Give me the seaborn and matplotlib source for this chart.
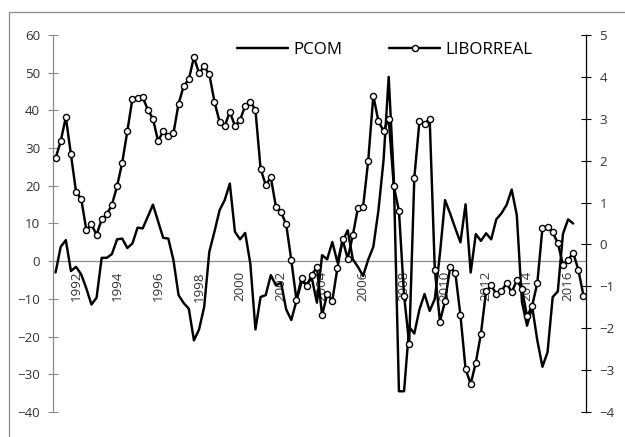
import numpy as np
import pandas as pd
import matplotlib
matplotlib.use("Agg")
import matplotlib.pyplot as plt
import seaborn as sns
from matplotlib.lines import Line2D

# Quarterly observations, 1991Q1 onward
pcom = [
    -3.0, 3.8, 5.6, -2.6, -1.5, -3.5, -7.2, -11.5, -9.7, 0.9,
    0.9, 1.9, 5.8, 6.0, 3.5, 4.7, 8.9, 8.7, 11.8, 15.0,
    10.6, 6.2, 6.0, 0.3, -9.0, -11.1, -12.6, -21.0, -18.1, -12.1,
    2.5, 7.8, 13.5, 16.2, 20.6, 7.8, 5.8, 7.5, -0.6, -18.1,
    -9.5, -9.0, -3.7, -6.4, -5.7, -12.8, -15.6, -10.5, -5.5, -6.0,
    -4.5, -11.0, 1.6, 0.5, 5.1, -0.3, 5.3, 8.2, 0.5, -1.5,
    -3.9, 0.4, 3.8, 13.5, 26.8, 48.9, 22.0, -34.5, -34.5, -17.4,
    -19.2, -12.8, -8.7, -13.2, -10.0, 2.0, 16.2, 12.6, 8.7, 5.0,
    15.1, -3.0, 7.2, 5.4, 7.4, 5.8, 11.1, 12.7, 14.9, 19.0,
    12.2, -10.8, -17.1, -12.1, -21.0, -28.0, -24.1, -9.5, -8.0, 7.2,
    11.1, 10.0,
]
liborreal = [
    2.06, 2.46, 3.04, 2.15, 1.25, 1.09, 0.35, 0.48, 0.23, 0.60,
    0.72, 0.95, 1.39, 1.95, 2.70, 3.48, 3.50, 3.51, 3.22, 3.00,
    2.47, 2.70, 2.58, 2.65, 3.36, 3.78, 3.94, 4.47, 4.09, 4.25,
    4.06, 3.41, 2.93, 2.82, 3.17, 2.83, 2.97, 3.31, 3.41, 3.21,
    1.81, 1.42, 1.60, 0.90, 0.77, 0.48, -0.38, -1.32, -0.80, -1.00,
    -0.72, -0.55, -1.69, -1.19, -1.34, -0.56, 0.12, -0.34, 0.22, 0.87,
    0.89, 1.99, 3.55, 2.94, 2.71, 3.00, 1.39, 0.80, -1.22, -2.37,
    1.59, 2.94, 2.88, 3.00, -0.61, -1.84, -1.35, -0.54, -0.68, -1.69,
    -2.97, -3.33, -2.82, -2.13, -1.12, -0.98, -1.18, -1.12, -0.92, -1.14,
    -0.86, -1.06, -1.72, -1.46, -0.92, 0.39, 0.41, 0.29, 0.03, -0.48,
    -0.38, -0.20, -0.60, -1.22,
]
year_labels = [str(y) for y in range(1992, 2017, 2)]
series_names = ["PCOM", "LIBORREAL"]

sns.set_style("white")
plt.rcParams["font.family"] = ["Open Sans", "DejaVu Sans"]

TEXT = "#333333"
AXIS_GREY = "#8c8c8c"
LW = 1.75

n_q = len(liborreal)
df_p = pd.DataFrame({"t": np.arange(len(pcom)), "PCOM": pcom})
df_l = pd.DataFrame({"t": np.arange(n_q), "LIBORREAL": liborreal})

W, H = 625, 437
fig = plt.figure(figsize=(W / 100, H / 100), dpi=100)
ax = fig.add_axes([53 / W, 1 - 412 / H, 533 / W, 377 / H])
ax2 = ax.twinx()

sns.lineplot(data=df_p, x="t", y="PCOM", ax=ax, color="black", lw=LW,
             legend=False, zorder=3)
sns.lineplot(data=df_l, x="t", y="LIBORREAL", ax=ax2, color="black", lw=LW,
             marker="o", markersize=4.4, markerfacecolor="white",
             markeredgecolor="black", markeredgewidth=1.0, legend=False)

ax.set_xlim(-0.5, n_q - 0.5)
ax.set_ylim(-40, 60)
ax2.set_ylim(-4, 5)
ax.set_xlabel("")
ax.set_ylabel("")
ax2.set_ylabel("")

# Left axis
ax.set_yticks(range(-40, 61, 10))
ax.tick_params(axis="y", direction="inout", length=6.5, width=0.8,
               color=AXIS_GREY, labelsize=9.6, labelcolor=TEXT, pad=6)

# Category axis crossing at zero: ticks between years, labels every two years
ax.spines["bottom"].set_position(("data", 0))
ax.set_xticks(np.arange(3.5, n_q - 1, 4))
ax.set_xticks(np.arange(4, n_q, 8), labels=year_labels, minor=True)
ax.tick_params(axis="x", which="major", direction="inout", length=6,
               width=0.8, color=AXIS_GREY, labelbottom=False)
ax.tick_params(axis="x", which="minor", length=0, pad=7, labelsize=9.6,
               labelcolor=TEXT, labelrotation=90)

for s in ["top", "right"]:
    ax.spines[s].set_visible(False)
for s in ["left", "bottom"]:
    ax.spines[s].set_color(AXIS_GREY)
    ax.spines[s].set_linewidth(0.9)

# Right axis
for s in ["top", "left", "bottom"]:
    ax2.spines[s].set_visible(False)
ax2.spines["right"].set_color("black")
ax2.spines["right"].set_linewidth(0.9)
ax2.set_yticks(range(-4, 6, 1))
ax2.tick_params(axis="y", direction="inout", length=7.5, width=0.8,
                color="black", labelsize=9.6, labelcolor=TEXT, pad=6)

# Legend
handles = [
    Line2D([], [], color="black", lw=LW),
    Line2D([], [], color="black", lw=LW, marker="o", markersize=4.4,
           markerfacecolor="white", markeredgecolor="black",
           markeredgewidth=1.0),
]
fig.legend(handles, series_names, ncol=2, frameon=False, loc="center left",
           bbox_to_anchor=(237 / W, 1 - 50 / H), fontsize=12.2,
           handlelength=3.0, handletextpad=0.3, columnspacing=2.8,
           borderaxespad=0, borderpad=0, labelcolor="black")

# Chart-area border
fig.add_artist(Line2D([9 / W, 9 / W, 1.01], [-0.01, 1 - 12 / H, 1 - 12 / H],
                      transform=fig.transFigure, color=AXIS_GREY, lw=0.9))

fig.savefig("out.png", dpi=100)
